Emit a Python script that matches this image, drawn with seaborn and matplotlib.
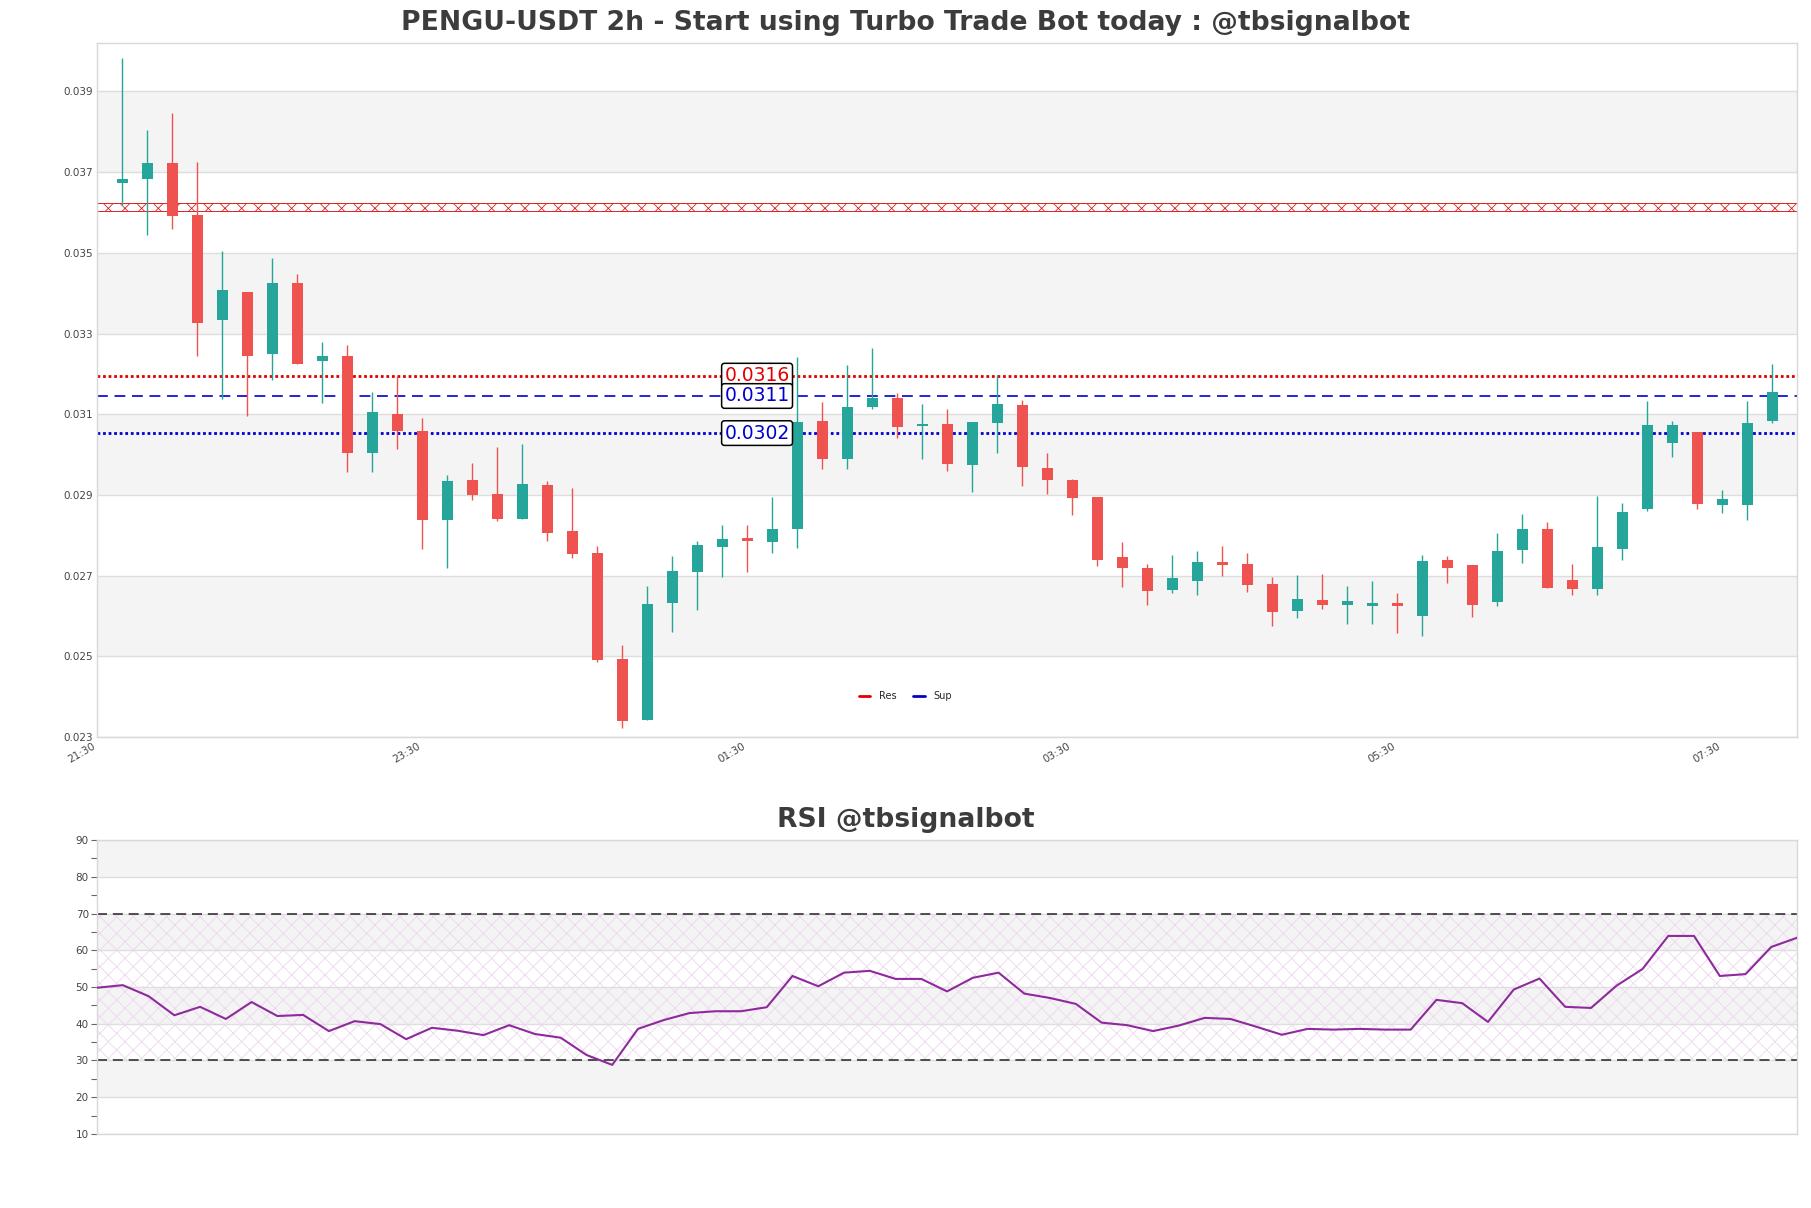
import matplotlib
matplotlib.use("Agg")
import matplotlib.pyplot as plt
from matplotlib.ticker import FixedLocator, MultipleLocator
import seaborn as sns
import numpy as np
import pandas as pd

# ---- data ----
opens = [0.03672, 0.03682, 0.03722, 0.03594, 0.03334, 0.03402, 0.03248, 0.03425, 0.03231, 0.03244,
         0.03004, 0.03100, 0.03058, 0.02838, 0.02937, 0.02902, 0.02840, 0.02925, 0.02810, 0.02756,
         0.02493, 0.02342, 0.02633, 0.02710, 0.02771, 0.02793, 0.02784, 0.02816, 0.03083, 0.02989,
         0.03118, 0.03140, 0.03070, 0.03076, 0.02975, 0.03079, 0.03122, 0.02967, 0.02937, 0.02895,
         0.02745, 0.02718, 0.02665, 0.02687, 0.02733, 0.02730, 0.02679, 0.02613, 0.02639, 0.02628,
         0.02625, 0.02632, 0.02601, 0.02738, 0.02727, 0.02634, 0.02764, 0.02815, 0.02688, 0.02667,
         0.02766, 0.02866, 0.03029, 0.03057, 0.02876, 0.02876, 0.03083]
highs = [0.03982, 0.03805, 0.03846, 0.03725, 0.03504, 0.03402, 0.03487, 0.03448, 0.03278, 0.03271,
         0.03154, 0.03194, 0.03091, 0.02949, 0.02979, 0.03019, 0.03026, 0.02934, 0.02917, 0.02773,
         0.02527, 0.02675, 0.02748, 0.02786, 0.02825, 0.02825, 0.02895, 0.03242, 0.03131, 0.03222,
         0.03264, 0.03153, 0.03125, 0.03113, 0.03081, 0.03196, 0.03136, 0.03004, 0.02940, 0.02895,
         0.02784, 0.02728, 0.02752, 0.02762, 0.02774, 0.02755, 0.02696, 0.02701, 0.02703, 0.02674,
         0.02686, 0.02657, 0.02752, 0.02748, 0.02727, 0.02805, 0.02853, 0.02833, 0.02728, 0.02898,
         0.02880, 0.03132, 0.03082, 0.03057, 0.02912, 0.03132, 0.03224]
lows = [0.03619, 0.03543, 0.03560, 0.03245, 0.03137, 0.03096, 0.03185, 0.03225, 0.03128, 0.02956,
        0.02957, 0.03015, 0.02765, 0.02720, 0.02888, 0.02836, 0.02840, 0.02786, 0.02744, 0.02487,
        0.02323, 0.02342, 0.02559, 0.02615, 0.02697, 0.02710, 0.02757, 0.02769, 0.02963, 0.02965,
        0.03113, 0.03040, 0.02988, 0.02960, 0.02907, 0.03005, 0.02923, 0.02903, 0.02851, 0.02724,
        0.02672, 0.02628, 0.02658, 0.02652, 0.02699, 0.02660, 0.02574, 0.02596, 0.02618, 0.02579,
        0.02581, 0.02557, 0.02550, 0.02682, 0.02597, 0.02624, 0.02732, 0.02669, 0.02651, 0.02651,
        0.02739, 0.02859, 0.02995, 0.02866, 0.02856, 0.02839, 0.03077]
closes = [0.03682, 0.03722, 0.03592, 0.03327, 0.03408, 0.03245, 0.03425, 0.03225, 0.03244, 0.03004,
          0.03105, 0.03059, 0.02839, 0.02934, 0.02900, 0.02840, 0.02927, 0.02805, 0.02754, 0.02490,
          0.02340, 0.02629, 0.02711, 0.02776, 0.02791, 0.02787, 0.02816, 0.03081, 0.02989, 0.03118,
          0.03140, 0.03069, 0.03075, 0.02977, 0.03081, 0.03125, 0.02968, 0.02936, 0.02893, 0.02739,
          0.02719, 0.02662, 0.02693, 0.02733, 0.02726, 0.02677, 0.02611, 0.02642, 0.02628, 0.02637,
          0.02630, 0.02625, 0.02736, 0.02719, 0.02627, 0.02761, 0.02815, 0.02669, 0.02667, 0.02771,
          0.02858, 0.03074, 0.03074, 0.02878, 0.02890, 0.03079, 0.03154]
rsi = [49.8, 50.5, 47.5, 42.3, 44.6, 41.3, 45.9, 42.1, 42.4, 38.0,
       40.7, 39.9, 35.8, 38.9, 38.1, 36.9, 39.6, 37.2, 36.2, 31.5,
       28.8, 38.6, 41.0, 42.9, 43.4, 43.4, 44.5, 53.0, 50.2, 53.9,
       54.4, 52.2, 52.2, 48.8, 52.5, 53.9, 48.2, 47.0, 45.4, 40.3,
       39.6, 38.0, 39.5, 41.6, 41.3, 39.2, 37.0, 38.6, 38.4, 38.6,
       38.4, 38.4, 46.5, 45.6, 40.5, 49.3, 52.3, 44.6, 44.3, 50.4,
       54.9, 63.9, 63.9, 53.0, 53.5, 60.9, 63.4]
time_labels = ["21:30", "23:30", "01:30", "03:30", "05:30", "07:30"]
res_levels = [0.03164]
sup_levels = [0.03114, 0.03023]
res_zone = (0.03603, 0.03623)

TITLE = "PENGU-USDT 2h - Start using Turbo Trade Bot today : @tbsignalbot"
GREEN, RED = "#26a69a", "#ef5350"
BAND = "#f4f4f4"
LINE_SHIFT = 1.01  # levels are drawn slightly above the value printed in the box

df = pd.DataFrame({"open": opens, "high": highs, "low": lows, "close": closes})
df["x"] = np.arange(len(df))
df["up"] = df["close"] >= df["open"]
df["color"] = np.where(df["up"], GREEN, RED)

sns.set_theme(style="white")
plt.rcParams["font.family"] = ["DejaVu Sans"]
plt.rcParams["hatch.linewidth"] = 0.6

fig = plt.figure(figsize=(18.11, 12.08), dpi=100)
ax = fig.add_axes([0.0536, 0.3899, 0.9387, 0.5745])
ax2 = fig.add_axes([0.0536, 0.0613, 0.9387, 0.2433])

# ---- price panel ----
yt = np.round(np.arange(0.023, 0.0391, 0.002), 3)
for k in range(len(yt) - 1):
    if k % 2 == 1:
        ax.axhspan(yt[k], yt[k + 1], color=BAND, zorder=0, lw=0)
ax.yaxis.set_major_locator(FixedLocator(yt))
ax.yaxis.set_major_formatter(plt.FormatStrFormatter("%.3f"))
ax.grid(axis="y", color="#dedede", lw=1, zorder=0.5)
ax.grid(axis="x", visible=False)

ax.vlines(df["x"], df["low"], df["high"], colors=df["color"], lw=1, zorder=2)
body = (df["close"] - df["open"]).abs().clip(lower=0.00006)
ax.bar(df["x"], body, bottom=df[["open", "close"]].min(axis=1), width=0.44,
       color=df["color"], zorder=3, lw=0)

ax.axhspan(*res_zone, facecolor="none", edgecolor="#e02020", hatch="xx", lw=0.7, zorder=1)

label_x = 25.4
box = dict(boxstyle="round,pad=0.15", fc="white", ec="black", lw=1.1)
for i, lv in enumerate(res_levels):
    ax.axhline(lv * LINE_SHIFT, color="#e00000", lw=2, ls=(0, (1, 1)), zorder=1.5,
               label="Res" if i == 0 else None)
    ax.text(label_x, lv * LINE_SHIFT, f"{lv:.4f}", color="#e00000", fontsize=13.5,
            ha="center", va="center", zorder=5, bbox=box)
for i, lv in enumerate(sup_levels):
    style = (0, (6.5, 4)) if i == 0 else (0, (1, 1))
    lw = 1.2 if i == 0 else 2
    ax.axhline(lv * LINE_SHIFT, color="#0000cc", lw=lw, ls=style, zorder=1.5,
               label="Sup" if i == 0 else None)
    ax.text(label_x, lv * LINE_SHIFT, f"{lv:.4f}", color="#0000cc", fontsize=13.5,
            ha="center", va="center", zorder=5, bbox=box)

ax.set_xlim(-1, len(df))
ax.set_ylim(0.023, 0.0402)
ax.set_xticks(np.arange(-1, len(df), 13)[:len(time_labels)])
ax.set_xticklabels(time_labels, rotation=30, ha="right")
ax.tick_params(axis="both", length=0, labelsize=7.5, labelcolor="#444444", pad=3)
for s in ax.spines.values():
    s.set_color("#d8d8d8")
    s.set_linewidth(1)

leg = ax.legend(loc="center", bbox_to_anchor=(0.5, 0.4238), bbox_transform=fig.transFigure,
                ncol=2, frameon=False, fontsize=7, handlelength=1.2, handletextpad=0.9,
                columnspacing=1.7)
for h in leg.get_lines():
    h.set_linestyle("-")
    h.set_linewidth(2)

# ---- RSI panel ----
for k, lo in enumerate(range(10, 90, 10)):
    if k % 2 == 1:
        ax2.axhspan(lo, lo + 10, color=BAND, zorder=0, lw=0)
ax2.axhspan(30, 70, facecolor="none", edgecolor="#ecd6ef", hatch="xx", lw=0, zorder=0.6)
ax2.grid(axis="y", color="#dedede", lw=1, zorder=0.5)
ax2.grid(axis="x", visible=False)
ax2.axhline(70, color="#333333", lw=1.2, ls=(0, (6, 3.5)), zorder=1)
ax2.axhline(30, color="#333333", lw=1.2, ls=(0, (6, 3.5)), zorder=1)
sns.lineplot(x=np.arange(len(rsi)), y=rsi, ax=ax2, color="#8e2a9c", lw=1.5, zorder=3)
ax2.set_xlim(0, len(rsi) - 1)
ax2.set_ylim(10, 90)
ax2.yaxis.set_major_locator(MultipleLocator(10))
ax2.yaxis.set_minor_locator(MultipleLocator(5))
ax2.set_xticks([])
ax2.tick_params(axis="y", which="both", left=True, length=4, width=0.8, color="#666666",
                labelsize=7.5, labelcolor="#444444", pad=2)
for s in ax2.spines.values():
    s.set_color("#d8d8d8")
    s.set_linewidth(1)

fig.text(0.5, 0.981, TITLE, ha="center", va="center", fontsize=19.2, fontweight="bold",
         color="#3c3c3c")
fig.text(0.5, 0.3212, "RSI @tbsignalbot", ha="center", va="center", fontsize=19.2,
         fontweight="bold", color="#3c3c3c")

fig.savefig("out.png", dpi=100)
